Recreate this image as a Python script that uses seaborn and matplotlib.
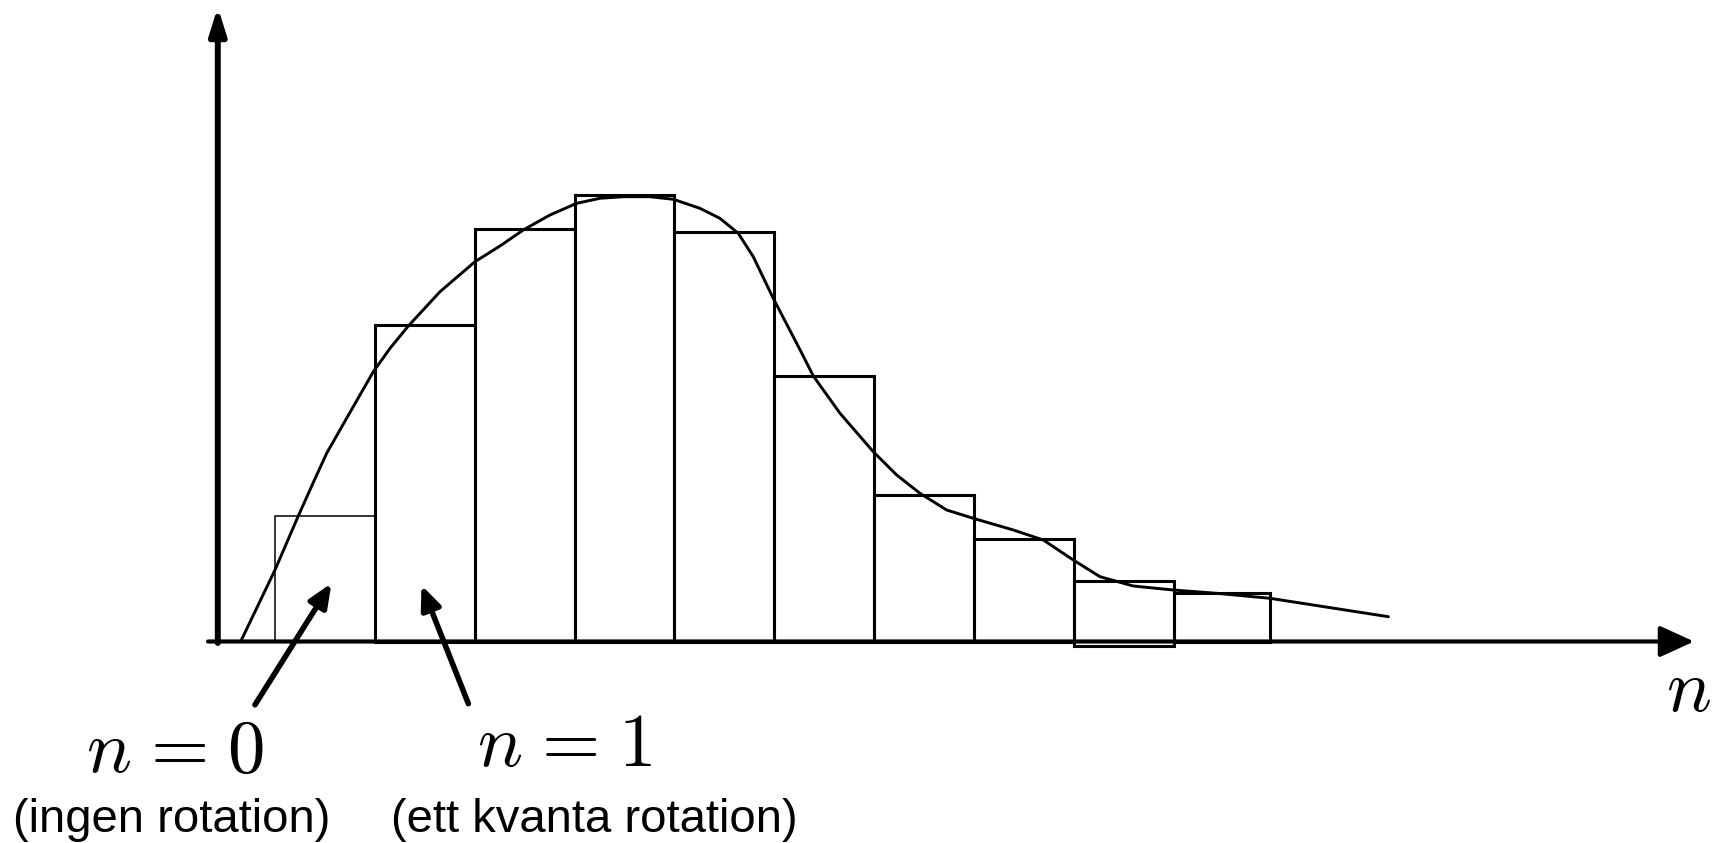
import matplotlib
matplotlib.use("Agg")
import matplotlib.pyplot as plt
import seaborn as sns

# ---- data (arbitrary units; bar k spans n = k .. k+1) ----
bin_edges = [0, 1, 2, 3, 4, 5, 6, 7, 8, 9, 9.96]
bar_heights = [12.6, 31.65, 41.3, 44.7, 40.95, 26.6, 14.65, 10.25, 6.05, 4.83]
bar_bottoms = [0, 0, 0, 0, 0, 0, 0, 0, -0.4, 0]

curve_x = [-0.34, 0.003, 0.236, 0.400, 0.520, 0.786, 0.987, 1.154, 1.337, 1.654, 2.004,
           2.254, 2.487, 2.754, 3.022, 3.254, 3.488, 3.754, 3.988, 4.254, 4.454,
           4.638, 4.788, 4.988, 5.257, 5.389, 5.656, 5.989, 6.223, 6.456, 6.723,
           6.989, 7.390, 7.690, 7.990, 8.257, 8.590, 8.990, 9.425, 9.958, 11.142]
curve_y = [0.0, 7.15, 12.55, 16.2, 18.82, 23.48, 26.98, 29.32, 31.55, 34.98, 37.98,
           39.55, 41.15, 42.65, 43.82, 44.32, 44.48, 44.48, 44.22, 43.32, 42.32,
           40.82, 38.48, 34.32, 29.15, 26.55, 22.82, 18.98, 16.65, 14.82, 13.15,
           12.32, 11.15, 10.15, 8.15, 6.48, 5.55, 5.15, 4.82, 4.32, 2.48]

label_n0 = r"$n\hspace{0.09}=\hspace{0.09}0$"
label_n1 = r"$n\hspace{0.09}=\hspace{0.09}1$"
label_x = r"$n$"
note_n0 = "(ingen rotation)"
note_n1 = "(ett kvanta rotation)"

sns.set_theme(style="white")
plt.rcParams["mathtext.fontset"] = "cm"
plt.rcParams["font.family"] = ["Liberation Sans", "DejaVu Sans"]
plt.rcParams["text.color"] = "black"

fig = plt.figure(figsize=(17.16, 8.43), dpi=100)
ax = fig.add_axes([0, 0, 1, 1])
ax.set_xlim(-2.748, 14.42)
ax.set_ylim(-20.15, 64.15)
ax.axis("off")

centers = [(bin_edges[i] + bin_edges[i + 1]) / 2 for i in range(len(bar_heights))]
sns.histplot(x=centers, weights=bar_heights, bins=bin_edges, fill=False,
             element="bars", color="black", linewidth=2.2, ax=ax)
for i, p in enumerate(ax.patches):
    p.set_edgecolor("black")
    p.set_y(bar_bottoms[i])
    p.set_height(bar_heights[i] - bar_bottoms[i])
    if i == 0:
        p.set_linewidth(1.1)

sns.lineplot(x=curve_x, y=curve_y, sort=False, color="black", linewidth=2.1,
             ax=ax, estimator=None, solid_joinstyle="round", solid_capstyle="round")

# axes arrows
ax.annotate("", xy=(14.2, 0), xytext=(-0.667, 0),
            arrowprops=dict(arrowstyle="-|>,head_length=1.05,head_width=0.48",
                            mutation_scale=20, lw=3.0, color="black",
                            shrinkA=0, shrinkB=0))
ax.annotate("", xy=(-0.569, 63.45), xytext=(-0.569, -0.15),
            arrowprops=dict(arrowstyle="-|>,head_length=0.8,head_width=0.25",
                            mutation_scale=20, lw=4.3, color="black",
                            shrinkA=0, shrinkB=0))

# pointer arrows
for tail, tip in [((-0.197, -6.33), (0.568, 5.82)), ((1.938, -6.22), (1.469, 5.62))]:
    ax.annotate("", xy=tip, xytext=tail,
                arrowprops=dict(arrowstyle="-|>,head_length=0.7,head_width=0.3",
                                mutation_scale=20, lw=4.0, color="black",
                                shrinkA=0, shrinkB=0))

ax.text(-0.997, -13.0, label_n0, fontsize=54, ha="center", va="baseline")
ax.text(2.90, -12.45, label_n1, fontsize=54, ha="center", va="baseline")
ax.text(14.15, -6.99, label_x, fontsize=54, ha="center", va="baseline")
ax.text(-1.03, -19.0, note_n0, fontsize=34, ha="center", va="baseline")
ax.text(3.198, -19.0, note_n1, fontsize=34, ha="center", va="baseline")

fig.savefig("out.png", dpi=100)
